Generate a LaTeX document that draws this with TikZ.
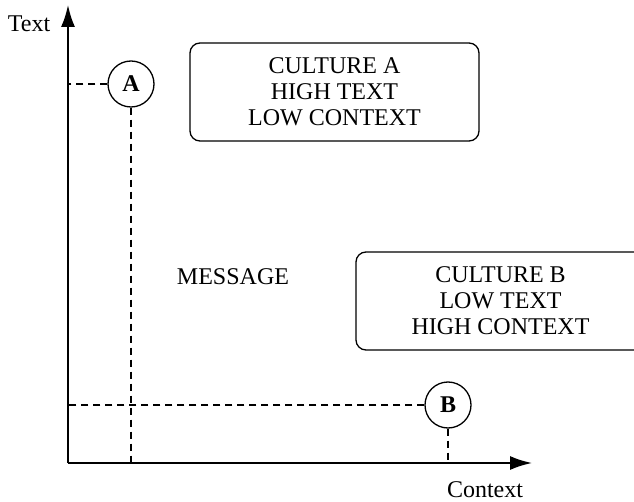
\documentclass[tikz,border=0pt]{standalone}
\usepackage{fontspec}
\setmainfont{Liberation Serif}
\usepackage{tikz}
\usetikzlibrary{arrows.meta}
\tikzset{>={Latex[length=22pt,width=14pt]}}
\tikzset{
  marker/.style={draw,circle,line width=1.3pt,minimum size=46pt,inner sep=0pt,font=\fontsize{24}{26}\selectfont\bfseries},
  guide/.style={line width=1.3pt,dash pattern=on 7pt off 5pt},
  culture/.style={draw,rounded corners=10pt,line width=1.3pt,minimum width=289pt,minimum height=98pt},
  axis/.style={->,line width=2pt},
}

\begin{document}
\begin{tikzpicture}[x=1pt,y=-1pt,font=\fontsize{24}{26}\selectfont]
    \useasboundingbox (0,0) rectangle (634,502);
    \clip (0,0) rectangle (634,502);
    % axes
    \coordinate (O) at (68,463);
    \coordinate (ytip) at (68,5);
    \coordinate (xtip) at (532,463);
    \draw[axis] (O) -- (ytip);
    \draw[axis] (O) -- (xtip);
    \node (ylab) at (29,24) {Text};
    \node (xlab) at (485,490) {Context};
    % the two cultures
    \node[marker] (A) at (131,84) {A};
    \node[marker] (B) at (448,405) {B};
    \draw[guide] (A.west) -- (A.west -| O);
    \draw[guide] (A.south) -- (A.south |- O);
    \draw[guide] (B.west) -- (B.west -| O);
    \draw[guide] (B.south) -- (B.south |- O);
    \node[culture,align=center] (cultA) at (334.5,92) {CULTURE A\\HIGH TEXT\\LOW CONTEXT};
    \node[culture,align=center] (cultB) at (500.5,301) {CULTURE B\\LOW TEXT\\HIGH CONTEXT};
    \node (msg) at (233,277) {MESSAGE};
\end{tikzpicture}
\end{document}
